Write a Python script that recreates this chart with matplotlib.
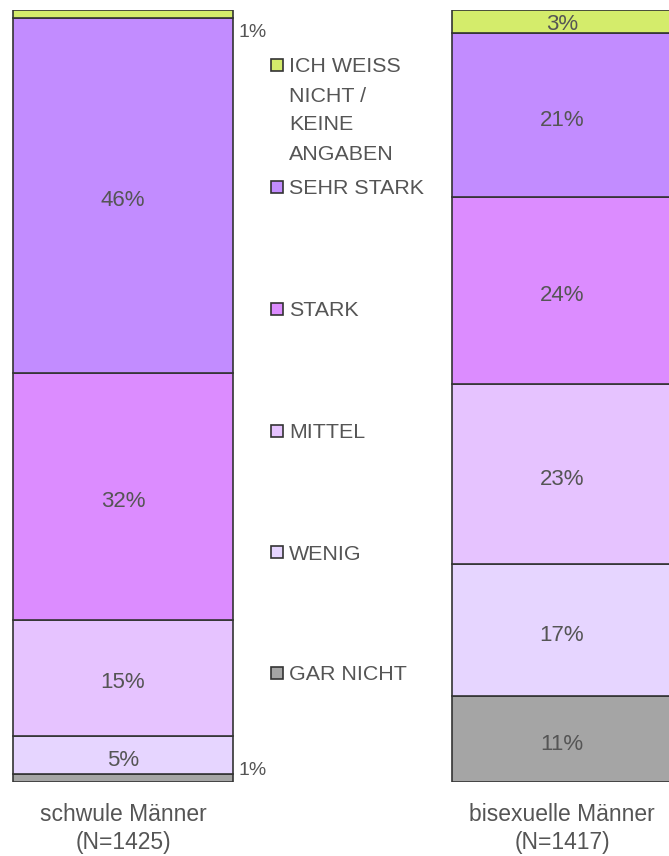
import numpy as np
import matplotlib.pyplot as plt
from matplotlib.patches import Rectangle

plt.rcParams['font.family'] = ['Liberation Sans', 'DejaVu Sans']

# Daten (von unten nach oben gestapelt)
gruppen = ["schwule Männer\n(N=1425)", "bisexuelle Männer\n(N=1417)"]
kategorien = ["GAR NICHT", "WENIG", "MITTEL", "STARK", "SEHR STARK",
              "ICH WEISS\nNICHT /\nKEINE\nANGABEN"]
schwul = [1, 5, 15, 32, 46, 1]
bisexuell = [11, 17, 23, 24, 21, 3]
farben = ["#a5a5a5", "#e6d5ff", "#e6c3ff", "#dc8cff", "#c28cff", "#d4ec6b"]

text_farbe = "#555555"
rand_farbe = "#333333"

fig = plt.figure(figsize=(6.69, 8.56), dpi=100)
ax = fig.add_axes([0, 74 / 856, 1, 772 / 856])

werte = np.array([schwul, bisexuell], dtype=float)
# jede Säule auf 100 % normieren
werte = werte / werte.sum(axis=1, keepdims=True) * 100
x = np.arange(len(gruppen))
breite = 0.501

unten = np.zeros(len(gruppen))
for i, kat in enumerate(kategorien):
    h = werte[:, i]
    ax.bar(x, h, breite, bottom=unten, color=farben[i],
           edgecolor=rand_farbe, linewidth=1.2)
    roh = [schwul[i], bisexuell[i]]
    for j in range(len(gruppen)):
        mitte = unten[j] + h[j] / 2
        if roh[j] >= 3:
            versatz = 0.35 if roh[j] >= 5 else 0.0
            ax.text(x[j], mitte - versatz, f"{roh[j]}%", ha="center",
                    va="center_baseline", fontsize=16, color=text_farbe)
        else:
            # kleine Segmente: Beschriftung rechts neben der Säule
            dy = -2.1 if i == len(kategorien) - 1 else 1.2
            ax.text(x[j] + breite / 2 + 0.012, mitte + dy,
                    f"{roh[j]}%", ha="left", va="center_baseline",
                    fontsize=14, color=text_farbe)
    unten += h

# Gruppenbeschriftungen unter den Säulen
for j, g in enumerate(gruppen):
    ax.text(x[j], -2.75, g, ha="center", va="top", fontsize=16.5,
            color=text_farbe, linespacing=1.27)

ax.set_xlim(-123 / 439, 546 / 439)
ax.set_ylim(0, 100)
ax.axis("off")

# Legende manuell (oben nach unten)
leg_y = [65, 187, 309, 431, 552, 673]
for k, yy in enumerate(leg_y):
    idx = len(kategorien) - 1 - k
    fy = 1 - yy / 856
    fig.patches.append(Rectangle((271 / 669, fy - 6 / 856), 12 / 669, 12 / 856,
                                 transform=fig.transFigure, facecolor=farben[idx],
                                 edgecolor=rand_farbe, linewidth=1.2))
    lines = kategorien[idx].split("\n")
    for n, t in enumerate(lines):
        fig.text(289 / 669, 1 - (yy + n * 29) / 856, t, ha="left",
                 va="center_baseline", fontsize=15.4, color=text_farbe)

fig.savefig("out.png", dpi=100)
